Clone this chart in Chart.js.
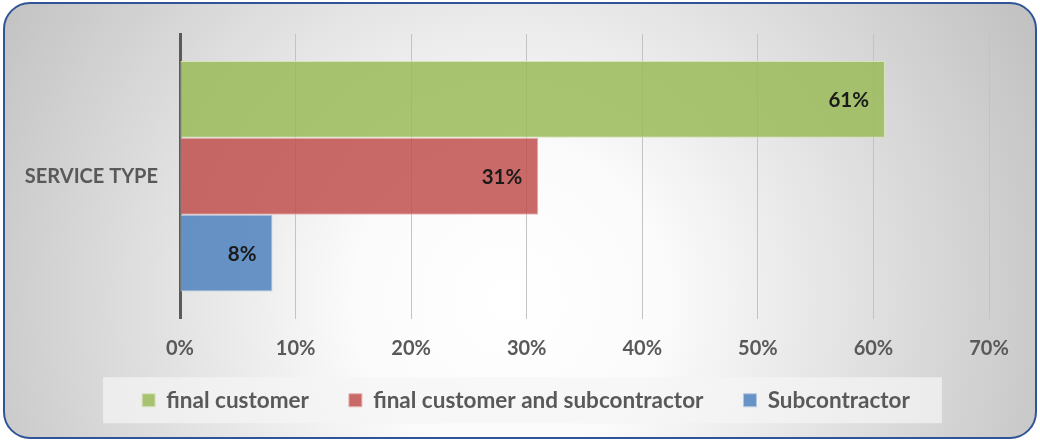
<!DOCTYPE html>
<html>
<head>
<meta charset="utf-8">
<script src="https://cdn.jsdelivr.net/npm/chart.js@4.4.1/dist/chart.umd.min.js"></script>
<style>
  html, body { margin: 0; padding: 0; background: #ffffff; }
  #wrap { width: 1040px; height: 441px; }
</style>
</head>
<body>
<div id="wrap"><canvas id="myChart" width="1040" height="441"></canvas></div>
<script>
const categories = ["SERVICE TYPE"];
const seriesNames = ["final customer", "final customer and subcontractor", "Subcontractor"];
const finalCustomer = [61];
const finalAndSub = [31];
const subcontractor = [8];
const xTicks = [0, 10, 20, 30, 40, 50, 60, 70];

const FONT = "Lato, 'Open Sans', sans-serif";
const GREY_TEXT = "#595959";

// rounded panel with a soft radial fill, plus the box behind the legend
const panel = {
  id: "panel",
  afterLayout: (chart) => {
    // nudge the legend: a bit right of centre and up closer to the axis
    const lg = chart.legend;
    lg.left += 20.5;
    lg.right += 20.5;
    lg.top -= 13.5;
    lg.bottom -= 13.5;
  },
  beforeDraw: (chart) => {
    const ctx = chart.ctx;
    const w = chart.width, h = chart.height;
    ctx.save();
    const g = ctx.createRadialGradient(510, 300, 0, 510, 300, 620);
    g.addColorStop(0, "#ffffff");
    g.addColorStop(0.25, "#fbfbfb");
    g.addColorStop(1, "#bebebe");
    ctx.beginPath();
    ctx.roundRect(4, 3, w - 8, h - 6, 26);
    ctx.fillStyle = g;
    ctx.fill();
    ctx.lineWidth = 2;
    ctx.strokeStyle = "#2f5597";
    ctx.stroke();

    const boxes = chart.legend.legendHitBoxes;
    if (boxes && boxes.length) {
      const first = boxes[0], last = boxes[boxes.length - 1];
      const cy = first.top + first.height / 2;
      const x0 = first.left - 39;
      const x1 = last.left + last.width + 32;
      ctx.fillStyle = "rgba(245,245,245,0.7)";
      ctx.fillRect(x0, cy - 23, x1 - x0, 46);
    }
    ctx.restore();
  },
};

// value labels inside the end of each bar
const barLabels = {
  id: "barLabels",
  afterDatasetsDraw: (chart) => {
    const ctx = chart.ctx;
    ctx.save();
    ctx.font = "bold 20.5px " + FONT;
    ctx.fillStyle = "#1a1a1a";
    ctx.textAlign = "right";
    ctx.textBaseline = "middle";
    chart.data.datasets.forEach((ds, i) => {
      chart.getDatasetMeta(i).data.forEach((bar, j) => {
        ctx.fillText(ds.data[j] + "%", bar.x - 16, bar.y + 1);
      });
    });
    ctx.restore();
  },
};

const data = {
  labels: categories,
  datasets: [
    {
      label: seriesNames[0],
      data: finalCustomer,
      backgroundColor: "rgba(155,187,89,0.85)",
      borderColor: "#d6e3bc",
    },
    {
      label: seriesNames[1],
      data: finalAndSub,
      backgroundColor: "rgba(192,80,77,0.85)",
      borderColor: "#e6b3b2",
    },
    {
      label: seriesNames[2],
      data: subcontractor,
      backgroundColor: "rgba(79,129,189,0.85)",
      borderColor: "#b3c8e2",
    },
  ],
};

const config = {
  type: "bar",
  data: data,
  plugins: [panel, barLabels],
  options: {
    indexAxis: "y",
    responsive: false,
    animation: false,
    datasets: {
      bar: {
        categoryPercentage: 0.81,
        barPercentage: 1.0,
        borderWidth: 1,
        borderSkipped: false,
      },
    },
    layout: {
      padding: { left: 22, right: 51, top: 32, bottom: 6 },
    },
    scales: {
      x: {
        min: 0,
        max: 70,
        afterBuildTicks: (scale) => {
          scale.ticks = xTicks.map((v) => ({ value: v }));
        },
        afterFit: (scale) => {
          scale.height = 44;
        },
        grid: {
          color: "#c3c3c3",
          lineWidth: 1,
          drawTicks: false,
        },
        border: { display: false },
        ticks: {
          padding: 18,
          color: GREY_TEXT,
          font: { family: FONT, size: 20, weight: "bold" },
          callback: (v) => v + "%",
        },
      },
      y: {
        afterFit: (scale) => {
          scale.width = 158;
        },
        grid: { display: false, drawTicks: false },
        border: { display: true, color: "#5a5a57", width: 3 },
        ticks: {
          padding: 22,
          color: GREY_TEXT,
          font: { family: FONT, size: 20, weight: "bold" },
        },
      },
    },
    plugins: {
      legend: {
        position: "bottom",
        labels: {
          boxWidth: 13,
          boxHeight: 13,
          padding: 40,
          color: GREY_TEXT,
          font: { family: FONT, size: 22.5, weight: "bold" },
        },
      },
      tooltip: { enabled: false },
    },
  },
};

const myChart = new Chart(document.getElementById("myChart"), config);
</script>
</body>
</html>
